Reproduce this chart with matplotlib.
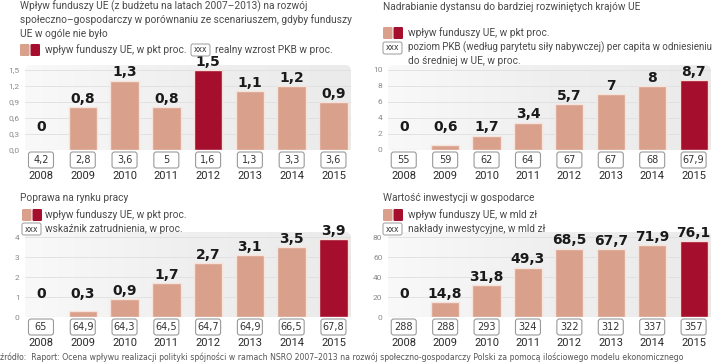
import matplotlib
matplotlib.use("Agg")
import matplotlib.pyplot as plt
import numpy as np
from matplotlib.patches import FancyBboxPatch
from matplotlib.transforms import Affine2D, blended_transform_factory

W, H = 720, 364
plt.rcParams['font.family'] = ['Roboto', 'DejaVu Sans']

years = ['2008', '2009', '2010', '2011', '2012', '2013', '2014', '2015']

# Panel 1: GDP growth
gdp_title = ["Wpływ funduszy UE (z budżetu na latach 2007–2013) na rozwój",
             "społeczno–gospodarczy w porównaniu ze scenariuszem, gdyby funduszy",
             "UE w ogóle nie było"]
gdp_impact = [0, 0.8, 1.3, 0.8, 1.5, 1.1, 1.2, 0.9]
gdp_impact_lbl = ['0', '0,8', '1,3', '0,8', '1,5', '1,1', '1,2', '0,9']
gdp_growth_lbl = ['4,2', '2,8', '3,6', '5', '1,6', '1,3', '3,3', '3,6']
gdp_ticks = [0, 0.3, 0.6, 0.9, 1.2, 1.5]
gdp_tick_lbl = ['0,0', '0,3', '0,6', '0,9', '1,2', '1,5']
gdp_highlight = 4

# Panel 2: convergence
conv_title = ["Nadrabianie dystansu do bardziej rozwiniętych krajów UE"]
conv_impact = [0, 0.6, 1.7, 3.4, 5.7, 7, 8, 8.7]
conv_impact_lbl = ['0', '0,6', '1,7', '3,4', '5,7', '7', '8', '8,7']
conv_level_lbl = ['55', '59', '62', '64', '67', '67', '68', '67,9']
conv_ticks = [0, 2, 4, 6, 8, 10]
conv_tick_lbl = ['0', '2', '4', '6', '8', '10']
conv_highlight = 7

# Panel 3: labour market
emp_title = ["Poprawa na rynku pracy"]
emp_impact = [0, 0.3, 0.9, 1.7, 2.7, 3.1, 3.5, 3.9]
emp_impact_lbl = ['0', '0,3', '0,9', '1,7', '2,7', '3,1', '3,5', '3,9']
emp_rate_lbl = ['65', '64,9', '64,3', '64,5', '64,7', '64,9', '66,5', '67,8']
emp_ticks = [0, 1, 2, 3, 4]
emp_tick_lbl = ['0', '1', '2', '3', '4']
emp_highlight = 7

# Panel 4: investment
inv_title = ["Wartość inwestycji w gospodarce"]
inv_impact = [0, 14.8, 31.8, 49.3, 68.5, 67.7, 71.9, 76.1]
inv_impact_lbl = ['0', '14,8', '31,8', '49,3', '68,5', '67,7', '71,9', '76,1']
inv_total_lbl = ['288', '288', '293', '324', '322', '312', '337', '357']
inv_ticks = [0, 20, 40, 60, 80]
inv_tick_lbl = ['0', '20', '40', '60', '80']
inv_highlight = 7

source = ("źródło:  Raport: Ocena wpływu realizacji polityki spójności w ramach NSRO 2007–2013 "
          "na rozwój społeczno-gospodarczy Polski za pomocą ilościowego modelu ekonomicznego")

SALMON = '#d9a08c'
DARK = '#a50f2d'
TXT = '#4a4a4a'
NARROW = ['Liberation Sans Narrow', 'DejaVu Sans']
FS = 7.3

fig = plt.figure(figsize=(W / 100, H / 100), dpi=100)
PX = Affine2D().scale(1, -1).translate(0, H)


def fy(y):
    return 1 - y / H


def panel(left, right, y0, ytop, vtop, values, vlabels, boxlabels, ticks, ticklabels,
          highlight, box_y, year_y):
    axtop = ytop - 5
    ax = fig.add_axes([left / W, fy(y0), (right - left) / W, (y0 - axtop) / H])
    scale = (y0 - ytop) / vtop
    ymax = (y0 - axtop) / scale
    ax.set_ylim(0, ymax)
    ax.set_xlim(-0.38, 7.42)
    for s in ax.spines.values():
        s.set_visible(False)
    ax.set_facecolor('none')
    bg = FancyBboxPatch((left, axtop), right - left, (y0 - axtop) + 6,
                        boxstyle='round,pad=0,rounding_size=6', transform=PX,
                        fc='none', ec='none')
    fig.add_artist(bg)
    grad = np.linspace(0, 1, 256).reshape(1, -1)
    im = ax.imshow(grad, extent=[-0.38, 7.42, 0, ymax], aspect='auto',
                   cmap=matplotlib.colors.LinearSegmentedColormap.from_list(
                       'g', ['#f9f9f9', '#efefef', '#ebebeb']), zorder=0)
    im.set_clip_path(bg)
    ax.set_yticks(ticks)
    ax.set_yticklabels(ticklabels)
    ax.tick_params(axis='y', length=0, pad=4, labelsize=6, labelcolor='#8a8a8a')
    ax.set_xticks([])
    for t in ticks[1:]:
        ax.axhline(t, color='#dfdfdf', lw=0.6, zorder=1)
    x = np.arange(len(values))
    colors = [DARK if i == highlight else SALMON for i in x]
    ax.bar(x, values, width=0.68, color=colors, edgecolor='#f6e3dc', linewidth=1.0, zorder=2)
    floor = 15 / scale
    for i, (v, l) in enumerate(zip(values, vlabels)):
        ax.annotate(l, (i, max(v, floor)), xytext=(0, 6), textcoords='offset points',
                    ha='center', va='center', fontsize=10, fontweight='bold',
                    family=NARROW, color='#1a1a1a', zorder=3)
    bt = blended_transform_factory(ax.transData, fig.transFigure)
    for i, (bl, yr) in enumerate(zip(boxlabels, years)):
        xd = ax.transData.transform((i, 0))[0]
        rect = FancyBboxPatch((xd - 12.5, box_y - 8), 25, 16,
                              boxstyle='round,pad=0,rounding_size=2.5', transform=PX,
                              fc='white', ec='#9a9a9a', lw=0.8)
        fig.add_artist(rect)
        fig.text(xd / W, fy(box_y), bl, ha='center', va='center', fontsize=7,
                 family=NARROW, color='#333333')
        ax.text(i, fy(year_y), yr, transform=bt, ha='center', va='center', fontsize=8,
                color='#2a2a2a')
    return ax


def legend_sq(x, y):
    fig.add_artist(FancyBboxPatch((x, y - 6), 9.5, 12, boxstyle='round,pad=0,rounding_size=1.2',
                                  transform=PX, fc=SALMON, ec='none'))
    fig.add_artist(FancyBboxPatch((x + 10.5, y - 6), 9.5, 12,
                                  boxstyle='round,pad=0,rounding_size=1.2',
                                  transform=PX, fc=DARK, ec='none'))


def legend_box(x, y):
    fig.add_artist(FancyBboxPatch((x, y - 6), 19, 12, boxstyle='round,pad=0,rounding_size=2',
                                  transform=PX, fc='white', ec='#9a9a9a', lw=0.7))
    fig.text((x + 9.5) / W, fy(y), 'xxx', ha='center', va='center', fontsize=5.5,
             family=NARROW, color='#333333')


def txt(x, y, s, size=FS):
    fig.text(x / W, fy(y), s, ha='left', va='center', fontsize=size, color=TXT)


# Panel 1
for k, line in enumerate(gdp_title):
    txt(20, 6 + 14 * k, line)
legend_sq(20, 50)
txt(45, 50, 'wpływ funduszy UE, w pkt proc.')
legend_box(191, 50)
txt(215, 50, 'realny wzrost PKB w proc.')
panel(25.1, 351, 150, 70, 1.5, gdp_impact, gdp_impact_lbl, gdp_growth_lbl,
      gdp_ticks, gdp_tick_lbl, gdp_highlight, 160, 176)

# Panel 2
txt(383, 7, conv_title[0])
legend_sq(383, 33)
txt(408, 33, 'wpływ funduszy UE, w pkt proc.')
legend_box(383, 48)
txt(408, 47, 'poziom PKB (według parytetu siły nabywczej) per capita w odniesieniu', size=7.0)
txt(408, 61, 'do średniej w UE, w proc.')
panel(388, 711, 150, 70, 10, conv_impact, conv_impact_lbl, conv_level_lbl,
      conv_ticks, conv_tick_lbl, conv_highlight, 160, 176)

# Panel 3
txt(20, 198, emp_title[0])
legend_sq(22, 215)
txt(45, 215, 'wpływ funduszy UE, w pkt proc.')
legend_box(22, 229)
txt(45, 229, 'wskaźnik zatrudnienia, w proc.')
panel(25.1, 351, 317, 237, 4, emp_impact, emp_impact_lbl, emp_rate_lbl,
      emp_ticks, emp_tick_lbl, emp_highlight, 327, 343)

# Panel 4
txt(383, 198, inv_title[0])
legend_sq(383, 215)
txt(408, 215, 'wpływ funduszy UE, w mld zł')
legend_box(383, 229)
txt(408, 229, 'nakłady inwestycyjne, w mld zł')
panel(388, 711, 317, 237, 80, inv_impact, inv_impact_lbl, inv_total_lbl,
      inv_ticks, inv_tick_lbl, inv_highlight, 327, 343)

fig.text(0, fy(357), source, ha='left', va='center', fontsize=5.6, color='#555555',
         family=NARROW)

fig.savefig('out.png', dpi=100)
